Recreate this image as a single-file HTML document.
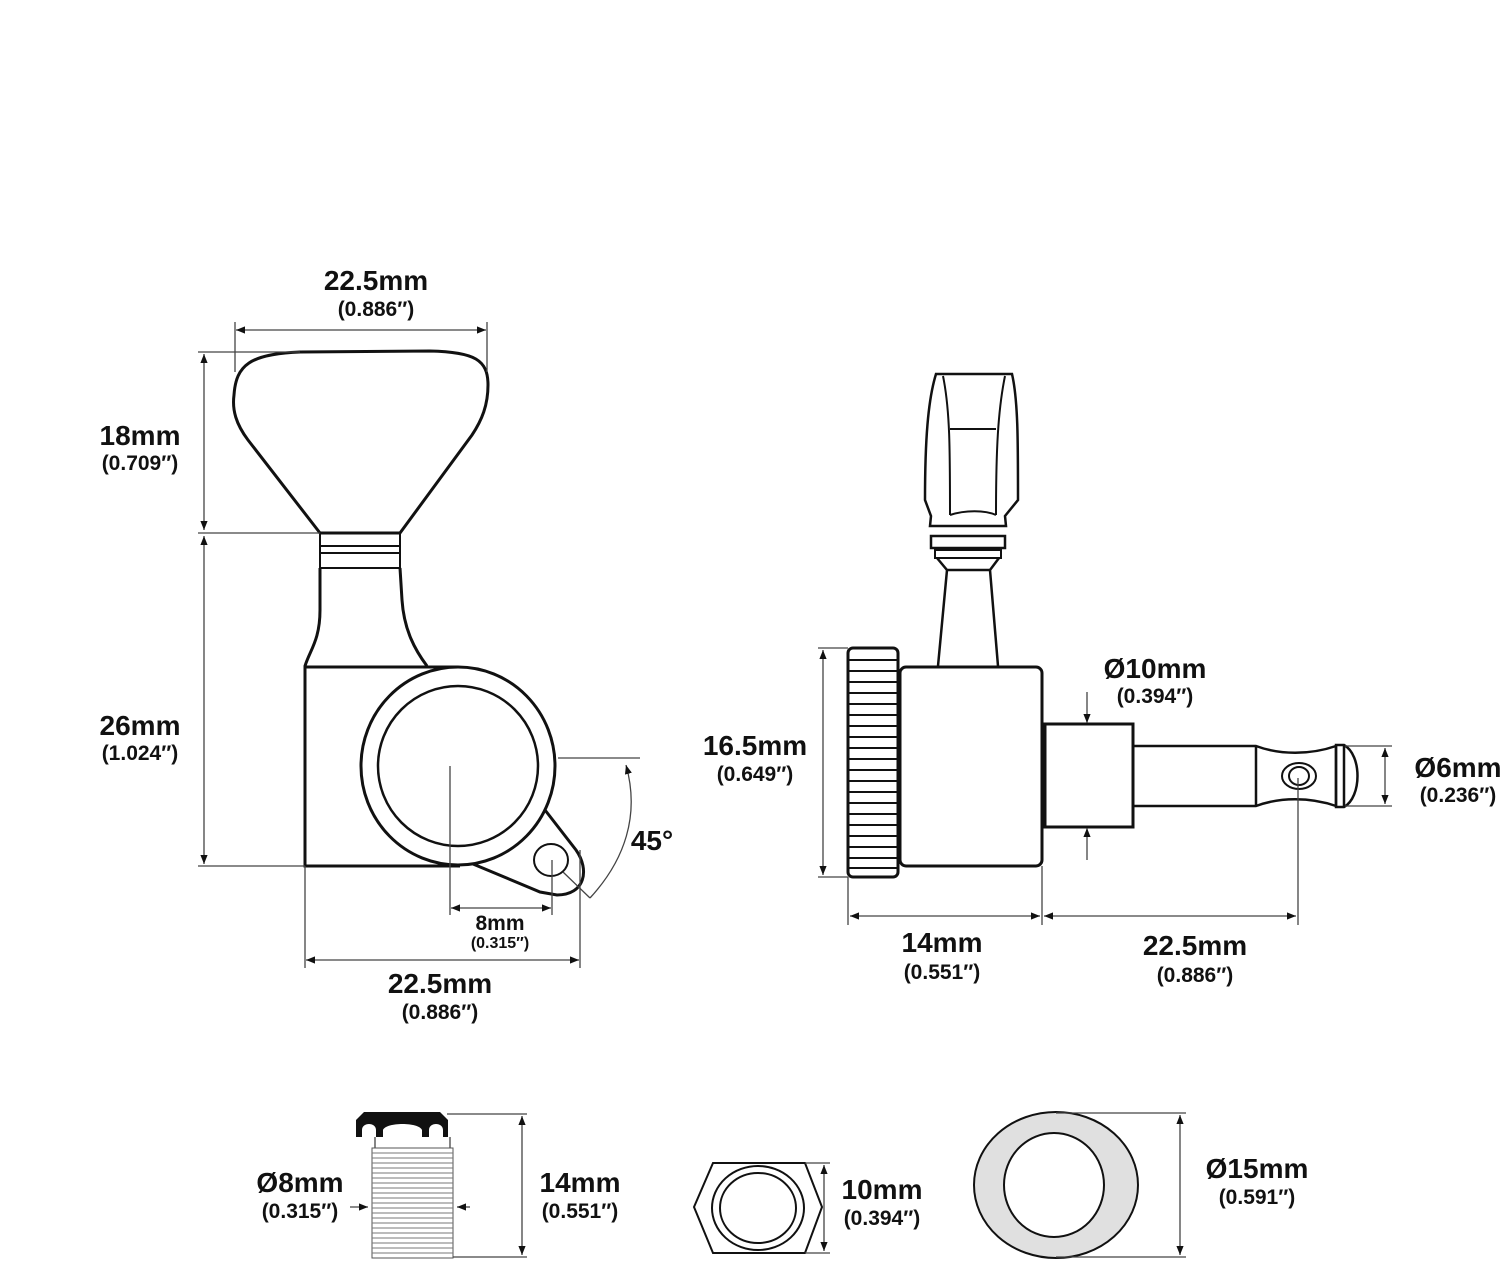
<!DOCTYPE html>
<html><head><meta charset="utf-8"><style>
html,body{margin:0;padding:0;background:#fff}
svg{display:block}
text{font-family:"Liberation Sans",Arial,sans-serif;font-weight:bold;fill:#111;text-anchor:middle}
.b{font-size:28px}.s{font-size:21px}.xs{font-size:16px}
.o{fill:none;stroke:#111;stroke-width:3}
.d{fill:none;stroke:#444;stroke-width:1.3}
</style></head><body>
<svg width="1510" height="1265" viewBox="0 0 1510 1265" xmlns="http://www.w3.org/2000/svg">
<defs>
<marker id="a" viewBox="0 0 10 10" refX="10" refY="5" markerWidth="9" markerHeight="9" orient="auto-start-reverse" markerUnits="userSpaceOnUse"><path d="M0,1 L10,5 L0,9z" fill="#111"/></marker>
</defs>

<!-- LEFT TUNER -->
<path class="o" d="M320,533 L248,440 C236,424 232,410 234,395 C236,365 250,354 300,352 L430,351 C475,352 488,360 488,385 C488,405 482,420 472,435 L400,533 Z"/>
<rect class="o" x="320" y="533" width="80" height="35" style="stroke-width:2"/>
<line class="o" x1="320" y1="546" x2="400" y2="546" style="stroke-width:2"/>
<line class="o" x1="320" y1="553" x2="400" y2="553" style="stroke-width:2"/>
<path class="o" d="M320,568 L320,610 C320,640 310,650 305,666 M400,568 L402,600 C404,630 415,650 427,666"/>
<path class="o" d="M458,667 L305,667 L305,866 L460,866"/>
<path class="o" d="M545,810 L576,850 C590,870 585,895 557,895 L540,892 L473,864"/>
<ellipse cx="458" cy="766" rx="97" ry="99" fill="#fff" stroke="#111" stroke-width="3"/>
<ellipse cx="458" cy="766" rx="80" ry="80" class="o" style="stroke-width:2.5"/>
<ellipse cx="551" cy="860" rx="17" ry="16" class="o" style="stroke-width:2"/>
<!-- dims left -->
<line class="d" x1="235" y1="322" x2="235" y2="372"/><line class="d" x1="487" y1="322" x2="487" y2="372"/>
<line class="d" x1="236" y1="330" x2="486" y2="330" marker-start="url(#a)" marker-end="url(#a)"/>
<line class="d" x1="198" y1="352" x2="300" y2="352"/>
<line class="d" x1="198" y1="533" x2="320" y2="533"/>
<line class="d" x1="198" y1="866" x2="305" y2="866"/>
<line class="d" x1="204" y1="354" x2="204" y2="530" marker-start="url(#a)" marker-end="url(#a)"/>
<line class="d" x1="204" y1="536" x2="204" y2="864" marker-start="url(#a)" marker-end="url(#a)"/>
<line class="d" x1="305" y1="866" x2="305" y2="968"/>
<line class="d" x1="580" y1="850" x2="580" y2="968"/>
<line class="d" x1="306" y1="960" x2="579" y2="960" marker-start="url(#a)" marker-end="url(#a)"/>
<line class="d" x1="450" y1="766" x2="450" y2="915"/>
<line class="d" x1="552" y1="860" x2="552" y2="915"/>
<line class="d" x1="451" y1="908" x2="551" y2="908" marker-start="url(#a)" marker-end="url(#a)"/>
<line class="d" x1="558" y1="758" x2="640" y2="758"/>
<line class="d" x1="563" y1="872" x2="590" y2="898"/>
<path class="d" d="M590,898 C625,860 640,815 626,765" marker-end="url(#a)"/>
<text class="b" x="376" y="290">22.5mm</text><text class="s" x="376" y="316">(0.886″)</text>
<text class="b" x="140" y="445">18mm</text><text class="s" x="140" y="470">(0.709″)</text>
<text class="b" x="140" y="735">26mm</text><text class="s" x="140" y="760">(1.024″)</text>
<text class="b" x="652" y="850">45°</text>
<text class="s" x="500" y="930">8mm</text><text class="xs" x="500" y="948">(0.315″)</text>
<text class="b" x="440" y="993">22.5mm</text><text class="s" x="440" y="1019">(0.886″)</text>

<!-- RIGHT TUNER -->
<path class="o" d="M936,374 L1012,374 C1018,400 1018,440 1018,500 L1005,516 L1006,526 L930,526 L931,516 L925,500 C925,440 928,400 936,374 Z" style="stroke-width:2.5"/>
<path class="d" style="stroke:#111;stroke-width:2" d="M943,376 C950,410 950,450 950,515 M1005,376 C998,410 996,450 996,515 M950,429 L996,429 M950,515 C965,510 985,510 996,515"/>
<rect class="o" x="931" y="536" width="74" height="12" style="stroke-width:2.5"/>
<rect class="o" x="935" y="550" width="66" height="8" style="stroke-width:2"/>
<path class="o" d="M937,558 L947,570 L990,570 L999,558 M947,570 L938,666 M990,570 L998,666" style="stroke-width:2.5"/>
<rect x="848" y="648" width="50" height="229" rx="5" class="o"/>
<g stroke="#111" stroke-width="2">
<line x1="848" y1="660" x2="898" y2="660"/><line x1="848" y1="671" x2="898" y2="671"/><line x1="848" y1="682" x2="898" y2="682"/><line x1="848" y1="693" x2="898" y2="693"/><line x1="848" y1="704" x2="898" y2="704"/><line x1="848" y1="715" x2="898" y2="715"/><line x1="848" y1="726" x2="898" y2="726"/><line x1="848" y1="737" x2="898" y2="737"/><line x1="848" y1="748" x2="898" y2="748"/><line x1="848" y1="759" x2="898" y2="759"/><line x1="848" y1="770" x2="898" y2="770"/><line x1="848" y1="781" x2="898" y2="781"/><line x1="848" y1="792" x2="898" y2="792"/><line x1="848" y1="803" x2="898" y2="803"/><line x1="848" y1="814" x2="898" y2="814"/><line x1="848" y1="825" x2="898" y2="825"/><line x1="848" y1="836" x2="898" y2="836"/><line x1="848" y1="847" x2="898" y2="847"/><line x1="848" y1="858" x2="898" y2="858"/><line x1="848" y1="868" x2="898" y2="868"/>
</g>
<rect x="900" y="667" width="142" height="199" rx="6" class="o"/>
<rect x="1045" y="724" width="88" height="103" class="o"/>
<path class="o" d="M1133,746 L1256,746 C1280,755 1310,755 1336,746 L1336,806 C1310,797 1280,797 1256,806 L1133,806 M1256,746 L1256,806" style="stroke-width:2.5"/>
<path class="o" d="M1336,745 L1344,745 C1362,755 1362,797 1344,807 L1336,807 Z M1344,745 L1344,807" style="stroke-width:2.5"/>
<ellipse cx="1299" cy="776" rx="17" ry="13" class="o" style="stroke-width:2"/>
<ellipse cx="1299" cy="776" rx="10" ry="9" class="o" style="stroke-width:2"/>
<!-- dims right -->
<line class="d" x1="818" y1="648" x2="848" y2="648"/><line class="d" x1="818" y1="877" x2="848" y2="877"/>
<line class="d" x1="823" y1="650" x2="823" y2="875" marker-start="url(#a)" marker-end="url(#a)"/>
<line class="d" x1="848" y1="877" x2="848" y2="925"/><line class="d" x1="1042" y1="866" x2="1042" y2="925"/>
<line class="d" x1="1298" y1="778" x2="1298" y2="925"/>
<line class="d" x1="850" y1="916" x2="1040" y2="916" marker-start="url(#a)" marker-end="url(#a)"/>
<line class="d" x1="1044" y1="916" x2="1296" y2="916" marker-start="url(#a)" marker-end="url(#a)"/>
<line class="d" x1="1087" y1="692" x2="1087" y2="723" marker-end="url(#a)"/>
<line class="d" x1="1087" y1="860" x2="1087" y2="828" marker-end="url(#a)"/>
<line class="d" x1="1345" y1="746" x2="1392" y2="746"/><line class="d" x1="1345" y1="806" x2="1392" y2="806"/>
<line class="d" x1="1385" y1="748" x2="1385" y2="804" marker-start="url(#a)" marker-end="url(#a)"/>
<text class="b" x="1155" y="678">Ø10mm</text><text class="s" x="1155" y="703">(0.394″)</text>
<text class="b" x="755" y="755">16.5mm</text><text class="s" x="755" y="781">(0.649″)</text>
<text class="b" x="1458" y="777">Ø6mm</text><text class="s" x="1458" y="802">(0.236″)</text>
<text class="b" x="942" y="952">14mm</text><text class="s" x="942" y="979">(0.551″)</text>
<text class="b" x="1195" y="955">22.5mm</text><text class="s" x="1195" y="982">(0.886″)</text>

<!-- BOTTOM: bushing -->
<path d="M356,1137 L356,1120 L364,1112 L440,1112 L448,1120 L448,1137 Z" fill="#111"/>
<path d="M362,1137 L362,1130 C362,1122 376,1122 376,1130 L376,1137 Z M383,1137 L383,1130 C386,1122 419,1122 422,1130 L422,1137 Z M429,1137 L429,1130 C429,1122 443,1122 443,1130 L443,1137 Z" fill="#fff"/>
<path class="d" d="M375,1137 L375,1148 M450,1137 L450,1148"/>
<rect x="372" y="1148" width="81" height="110" fill="#fff" stroke="#555" stroke-width="1"/>
<g stroke="#777" stroke-width="1">
<line x1="372" y1="1153" x2="453" y2="1153"/><line x1="372" y1="1158" x2="453" y2="1158"/><line x1="372" y1="1163" x2="453" y2="1163"/><line x1="372" y1="1168" x2="453" y2="1168"/><line x1="372" y1="1173" x2="453" y2="1173"/><line x1="372" y1="1178" x2="453" y2="1178"/><line x1="372" y1="1183" x2="453" y2="1183"/><line x1="372" y1="1188" x2="453" y2="1188"/><line x1="372" y1="1193" x2="453" y2="1193"/><line x1="372" y1="1198" x2="453" y2="1198"/><line x1="372" y1="1203" x2="453" y2="1203"/><line x1="372" y1="1208" x2="453" y2="1208"/><line x1="372" y1="1213" x2="453" y2="1213"/><line x1="372" y1="1218" x2="453" y2="1218"/><line x1="372" y1="1223" x2="453" y2="1223"/><line x1="372" y1="1228" x2="453" y2="1228"/><line x1="372" y1="1233" x2="453" y2="1233"/><line x1="372" y1="1238" x2="453" y2="1238"/><line x1="372" y1="1243" x2="453" y2="1243"/><line x1="372" y1="1248" x2="453" y2="1248"/><line x1="372" y1="1253" x2="453" y2="1253"/>
</g>
<line class="d" x1="350" y1="1207" x2="368" y2="1207" marker-end="url(#a)"/>
<line class="d" x1="470" y1="1207" x2="457" y2="1207" marker-end="url(#a)"/>
<line class="d" x1="447" y1="1114" x2="527" y2="1114"/><line class="d" x1="453" y1="1257" x2="527" y2="1257"/>
<line class="d" x1="522" y1="1116" x2="522" y2="1255" marker-start="url(#a)" marker-end="url(#a)"/>
<text class="b" x="300" y="1192">Ø8mm</text><text class="s" x="300" y="1218">(0.315″)</text>
<text class="b" x="580" y="1192">14mm</text><text class="s" x="580" y="1218">(0.551″)</text>

<!-- hex nut -->
<polygon points="694,1207 713,1163 805,1163 822,1207 805,1253 713,1253" fill="#fff" stroke="#111" stroke-width="2"/>
<ellipse cx="758" cy="1208" rx="46" ry="42" class="o" style="stroke-width:2"/>
<ellipse cx="758" cy="1208" rx="38" ry="35" class="o" style="stroke-width:2"/>
<line class="d" x1="805" y1="1163" x2="830" y2="1163"/><line class="d" x1="805" y1="1253" x2="830" y2="1253"/>
<line class="d" x1="824" y1="1165" x2="824" y2="1251" marker-start="url(#a)" marker-end="url(#a)"/>
<text class="b" x="882" y="1199">10mm</text><text class="s" x="882" y="1225">(0.394″)</text>

<!-- washer -->
<ellipse cx="1056" cy="1185" rx="82" ry="73" fill="#e0e0e0" stroke="#111" stroke-width="2"/>
<ellipse cx="1054" cy="1185" rx="50" ry="52" fill="#fff" stroke="#111" stroke-width="2"/>
<line class="d" x1="1056" y1="1113" x2="1186" y2="1113"/><line class="d" x1="1056" y1="1257" x2="1186" y2="1257"/>
<line class="d" x1="1180" y1="1115" x2="1180" y2="1255" marker-start="url(#a)" marker-end="url(#a)"/>
<text class="b" x="1257" y="1178">Ø15mm</text><text class="s" x="1257" y="1204">(0.591″)</text>
</svg>
</body></html>
